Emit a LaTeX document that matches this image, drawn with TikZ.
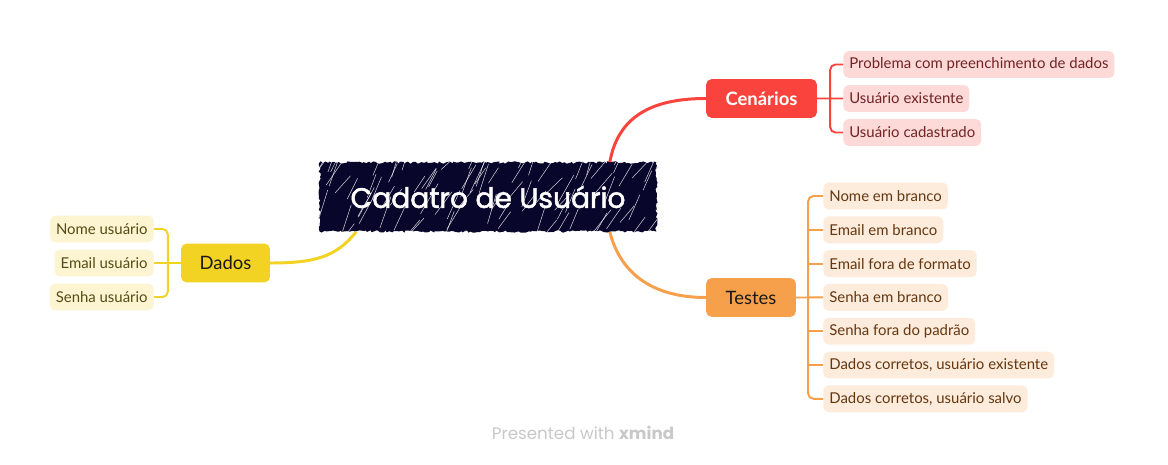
\documentclass[tikz,border=0pt]{standalone}
\usepackage{fontspec}
\setmainfont{Lato}
\newfontfamily\titlefont{Poppins}
\newfontfamily\titleboldfont{Poppins}[FakeBold=1.8]
\usetikzlibrary{decorations.pathmorphing}
\definecolor{navy}{RGB}{8,6,42}
\definecolor{cenred}{RGB}{250,67,60}
\definecolor{cenlight}{RGB}{253,217,216}
\definecolor{centext}{RGB}{112,36,36}
\definecolor{tesorange}{RGB}{246,160,76}
\definecolor{teslight}{RGB}{253,235,220}
\definecolor{testext}{RGB}{100,55,15}
\definecolor{dadyellow}{RGB}{242,211,35}
\definecolor{dadlight}{RGB}{253,245,210}
\definecolor{dadtext}{RGB}{85,75,20}
\definecolor{ink}{RGB}{25,25,25}
\definecolor{footgray}{RGB}{200,200,200}
\tikzset{
	topic/.style={rounded corners=3pt, minimum height=22pt, inner sep=0pt, font=\fontsize{10.5}{12}\selectfont},
	sub/.style={rounded corners=3pt, minimum height=15.3pt, inner xsep=3.4pt, inner ysep=0pt, font=\fontsize{8.5}{10}\selectfont},
	branch/.style={line width=1.7pt},
	twig/.style={line width=1.1pt, rounded corners=3pt},
	hatch/.style={white, line width=.3pt, opacity=.8}
}
\begin{document}
\begin{tikzpicture}[x=.02cm, y=-.02cm]
	\useasboundingbox (0,0) rectangle (1168,464);
	\node[fill=navy, minimum width=6.74cm, minimum height=1.38cm, decorate, decoration={random steps, segment length=1.2pt, amplitude=.7pt}] (root) at (488,197) {};
	\begin{scope}
		\clip (root.south west) rectangle (root.north east);
		\pgfmathsetseed{7}
		\foreach \x in {290,294,...,660} \draw[hatch] ({\x+9*rnd},{240-75*rnd}) -- ++({8+10*rnd},{-14-18*rnd});
	\end{scope}
	\node[text=white, font=\titleboldfont\fontsize{16}{18}\selectfont] (title) at (root) {Cadatro de Usuário};
	\node[topic, fill=cenred, text=white, minimum width=63pt, font=\bfseries\fontsize{10.5}{12}\selectfont] (cen) at (761.5,98.5) {Cenários};
	\node[topic, fill=tesorange, text=ink, minimum width=51pt] (tes) at (751,297.5) {Testes};
	\node[topic, fill=dadyellow, text=ink, minimum width=50.5pt] (dad) at (225.5,263) {Dados};
	\node foreach \t [count=\i] in {Problema com preenchimento de dados, Usuário existente, Usuário cadastrado}
		[sub, fill=cenlight, text=centext, anchor=west] (c\i) at (843, 30.5+34*\i) {\t};
	\node foreach \t [count=\i] in {Nome em branco, Email em branco, Email fora de formato, Senha em branco, Senha fora do padrão, {Dados corretos, usuário existente}, {Dados corretos, usuário salvo}}
		[sub, fill=teslight, text=testext, anchor=west] (t\i) at (823, 162.2+33.8*\i) {\t};
	\node foreach \t [count=\i] in {Nome usuário, Email usuário, Senha usuário}
		[sub, fill=dadlight, text=dadtext, anchor=east] (d\i) at (154, 195+34*\i) {\t};
	\draw[branch, cenred] ([xshift=-.94cm]root.north east) .. controls +(8,-45) and +(-55,0) .. (cen.west);
	\draw[branch, tesorange] ([xshift=-.94cm]root.south east) .. controls +(10,40) and +(-55,0) .. (tes.west);
	\draw[branch, dadyellow] ([xshift=.74cm]root.south west) .. controls +(-20,25) and +(45,0) .. (dad.east);
	\coordinate (cfork) at ([xshift=.26cm]cen.east);
	\coordinate (tfork) at ([xshift=.24cm]tes.east);
	\coordinate (dfork) at ([xshift=-.26cm]dad.west);
	\draw[twig, cenred] (c1.west) -| (cfork) |- (c3.west) (cen.east) -- (c2.west);
	\draw[twig, tesorange] (t1.west) -| (tfork) |- (t7.west) (tes.east) -- (t4.west);
	\foreach \i in {2,3,5,6} \draw[twig, tesorange] (tfork |- t\i.west) -- (t\i.west);
	\draw[twig, dadyellow] (d1.east) -| (dfork) |- (d3.east) (dad.west) -- (d2.east);
	\node[text=footgray, font=\titlefont\fontsize{9.5}{11}\selectfont] (credit) at (583,433) {Presented with \textbf{xmind}};
\end{tikzpicture}
\end{document}
